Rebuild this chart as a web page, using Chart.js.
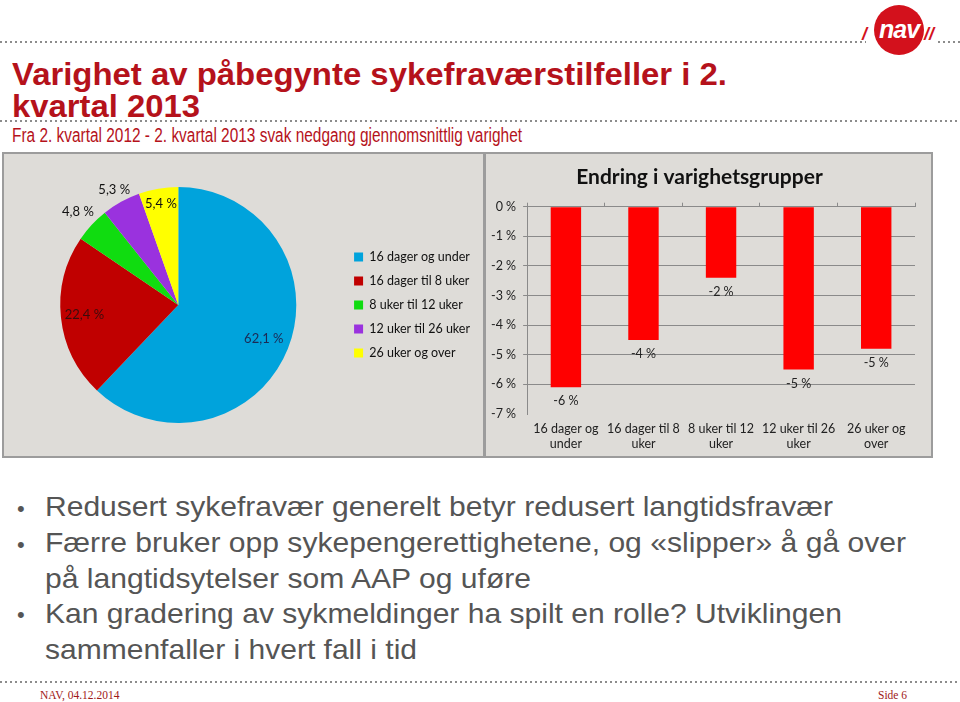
<!DOCTYPE html>
<html><head><meta charset="utf-8">
<script src="https://cdn.jsdelivr.net/npm/chart.js@4.4.1/dist/chart.umd.min.js"></script>
<style>
html,body{margin:0;padding:0;background:#fff;width:960px;height:702px;overflow:hidden;position:relative;font-family:"Liberation Sans",Arial,sans-serif;}
.abs{position:absolute;white-space:nowrap;transform-origin:0 0;}
.dots{position:absolute;height:2px;background-image:repeating-linear-gradient(to right,#8c8c8c 0 2px,transparent 2px 5px);}
.title{color:#B5121B;font-weight:bold;font-size:31px;line-height:31px;left:12px;}
.sub{color:#B5121B;font-size:20px;line-height:20px;left:12px;}
.bul{color:#555;font-size:28px;line-height:28px;left:45px;}
.bdot{color:#555;font-size:22px;line-height:22px;left:17px;}
.foot{color:#A01818;font-family:"Liberation Serif","DejaVu Serif",serif;font-size:11.5px;line-height:12px;}
.panel{position:absolute;box-sizing:border-box;background:#DEDCD8;border:2px solid #9c9c9c;}
.panel > div{position:absolute;left:0;top:0;right:0;bottom:0;}
</style>
</head>
<body>
<div class="dots" style="left:0;top:41px;width:866px"></div>
<div class="dots" style="left:938px;top:41px;width:22px"></div>
<div style="position:absolute;left:874px;top:5px;width:50px;height:50px;border-radius:50%;background:#D3111C;"></div>
<div class="abs" style="left:879px;top:15px;color:#fff;font:italic bold 25px 'Liberation Sans',Arial;letter-spacing:-1px;">nav</div>
<div class="abs" style="left:862px;top:24px;color:#D3111C;font:italic bold 18px 'Liberation Sans',Arial;">/</div>
<div class="abs" style="left:924px;top:24px;color:#D3111C;font:italic bold 18px 'Liberation Sans',Arial;">//</div>

<div class="abs title" style="top:59px" data-w="715">Varighet av påbegynte sykefraværstilfeller i 2.</div>
<div class="abs title" style="top:91px" data-w="188">kvartal 2013</div>
<div class="dots" style="left:0;top:120px;width:960px"></div>
<div class="abs sub" style="top:125px" data-w="510">Fra 2. kvartal 2012 - 2. kvartal 2013 svak nedgang gjennomsnittlig varighet</div>

<div class="panel" style="left:2px;top:152px;width:483px;height:306px;"><div><canvas id="pie"></canvas></div></div>
<div class="panel" style="left:484px;top:152px;width:449px;height:306px;"><div><canvas id="bar"></canvas></div></div>

<div class="abs bdot" style="top:498px">•</div>
<div class="abs bul" style="top:493px" data-w="788">Redusert sykefravær generelt betyr redusert langtidsfravær</div>
<div class="abs bdot" style="top:534px">•</div>
<div class="abs bul" style="top:529px" data-w="861">Færre bruker opp sykepengerettighetene, og «slipper» å gå over</div>
<div class="abs bul" style="top:565px" data-w="486">på langtidsytelser som AAP og uføre</div>
<div class="abs bdot" style="top:604px">•</div>
<div class="abs bul" style="top:600px" data-w="797">Kan gradering av sykmeldinger ha spilt en rolle? Utviklingen</div>
<div class="abs bul" style="top:636px" data-w="372">sammenfaller i hvert fall i tid</div>

<div class="dots" style="left:0;top:681px;width:960px"></div>
<div class="abs foot" style="left:40px;top:689px">NAV, 04.12.2014</div>
<div class="abs foot" style="left:878px;top:689px">Side 6</div>

<script>
// ---- data ----
const pieLabels = ['16 dager og under', '16 dager til 8 uker', '8 uker til 12 uker', '12 uker til 26 uker', '26 uker og over'];
const pieShares = [62.1, 22.4, 4.8, 5.3, 5.4];
const pieColors = ['#00A3DC', '#C00000', '#10DC10', '#9A32DE', '#FFFF00'];

const barCategories = [['16 dager og', 'under'], ['16 dager til 8', 'uker'], ['8 uker til 12', 'uker'], ['12 uker til 26', 'uker'], ['26 uker og', 'over']];
const barChange = [-6.1, -4.5, -2.4, -5.5, -4.8];
const barTitle = 'Endring i varighetsgrupper';

// ---- fit text widths ----
function fitTexts(){
  document.querySelectorAll('[data-w]').forEach(el=>{
    el.style.transform='none';
    const w = el.getBoundingClientRect().width;
    const t = parseFloat(el.dataset.w);
    if (w>0) el.style.transform = 'scaleX(' + (t/w) + ')';
  });
}
fitTexts();

Chart.defaults.font.family = 'Lato, "Open Sans", sans-serif';
Chart.defaults.color = '#222';

const pieLabelPlugin = {
  id: 'pieLabels',
  afterDatasetsDraw(chart, args, opts){
    const ctx = chart.ctx;
    const meta = chart.getDatasetMeta(0);
    ctx.save();
    ctx.font = '13px Lato, "Open Sans", sans-serif';
    ctx.textAlign = 'center';
    ctx.textBaseline = 'middle';
    meta.data.forEach((arc, i)=>{
      const p = arc.getProps(['x','y','startAngle','endAngle','outerRadius'], true);
      const a = (p.startAngle + p.endAngle)/2;
      const r = p.outerRadius * opts.radial[i];
      ctx.fillStyle = opts.colors[i];
      const v = chart.data.datasets[0].data[i];
      ctx.fillText(v.toFixed(1).replace('.', ',') + ' %', p.x + Math.cos(a)*r, p.y + Math.sin(a)*r);
    });
    ctx.restore();
  }
};

new Chart(document.getElementById('pie'), {
  type: 'pie',
  data: { labels: pieLabels, datasets: [{ data: pieShares, backgroundColor: pieColors, borderWidth: 0 }] },
  options: {
    responsive: true, maintainAspectRatio: false, animation: false,
    layout: { padding: { left: 10, right: 3, top: 33, bottom: 33 } },
    plugins: {
      tooltip: { enabled: false },
      legend: { position: 'right', labels: { boxWidth: 9, boxHeight: 9, padding: 11.5, font: { size: 12.5 }, color: '#111' } },
      pieLabels: { radial: [0.78, 0.8, 1.16, 1.12, 0.87], colors: ['#1B2A55', '#3A0C0C', '#111', '#111', '#111'] }
    }
  },
  plugins: [pieLabelPlugin]
});

const barLabelPlugin = {
  id: 'barLabels',
  afterDatasetsDraw(chart){
    const ctx = chart.ctx;
    const meta = chart.getDatasetMeta(0);
    ctx.save();
    ctx.font = '12.5px Lato, "Open Sans", sans-serif';
    ctx.fillStyle = '#222';
    ctx.textAlign = 'center';
    ctx.textBaseline = 'middle';
    meta.data.forEach((bar, i)=>{
      const v = chart.data.datasets[0].data[i];
      ctx.fillText(Math.round(v) + ' %', bar.x, bar.y + 14);
    });
    ctx.restore();
  }
};

new Chart(document.getElementById('bar'), {
  type: 'bar',
  data: { labels: barCategories, datasets: [{ data: barChange, backgroundColor: '#FF0000', borderWidth: 0, categoryPercentage: 0.8, barPercentage: 0.49 }] },
  options: {
    responsive: true, maintainAspectRatio: false, animation: false,
    layout: { padding: { left: -2, right: 16, top: 0, bottom: -2 } },
    plugins: {
      legend: { display: false }, tooltip: { enabled: false },
      title: { display: true, text: barTitle, font: { size: 21, weight: 'bold' }, color: '#111', padding: { top: 10.5, bottom: 13 } }
    },
    scales: {
      x: { position: 'bottom', grid: { display: false, drawTicks: false }, border: { display: false },
           ticks: { font: { size: 12.5 }, color: '#222', padding: 7, maxRotation: 0, autoSkip: false } },
      xTop: { type: 'category', position: 'top', labels: barCategories, offset: true,
              grid: { offset: true, drawOnChartArea: false, tickLength: 4, color: '#8a8a8a' },
              border: { display: false }, ticks: { display: false } },
      y: { min: -7, max: 0,
           ticks: { stepSize: 1, callback: v => v + ' %', font: { size: 12.5 }, color: '#222', padding: 7 },
           grid: { color: c => (c.tick && c.tick.value === -7) ? 'rgba(0,0,0,0)' : '#8a8a8a', tickLength: 4 },
           border: { color: '#8a8a8a' } }
    }
  },
  plugins: [barLabelPlugin]
});
</script>
</body></html>
